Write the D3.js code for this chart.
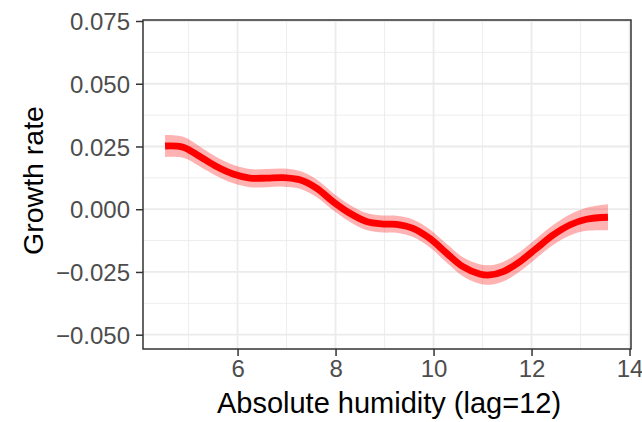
<!DOCTYPE html>
<html>
<head>
<meta charset="utf-8">
<script src="https://cdn.jsdelivr.net/npm/d3@7.9.0/dist/d3.min.js"></script>
<style>
  html, body { margin: 0; padding: 0; background: #fff; }
  svg { display: block; font-family: "Liberation Sans", Arial, sans-serif; }
</style>
</head>
<body>
<svg width="642" height="422"></svg>
<script>
// smooth fit of growth rate vs absolute humidity
const humidity = [4.52, 4.89, 5.23, 5.57, 5.91, 6.25, 6.59, 6.93, 7.27, 7.61, 7.95, 8.29, 8.63, 8.97,
  9.24, 9.58, 9.92, 10.27, 10.60, 10.94, 11.15, 11.42, 11.76, 12.10, 12.44, 12.78, 13.12, 13.56];
const growth = [0.0252, 0.0247, 0.0210, 0.0170, 0.0140, 0.0124, 0.0124, 0.0126, 0.0117, 0.0084, 0.0030, -0.0016, -0.0049, -0.0059,
  -0.0060, -0.0076, -0.0116, -0.0176, -0.0229, -0.0258, -0.0262, -0.0249, -0.0209, -0.0156, -0.0103, -0.0063, -0.0040, -0.0032];
const halfWidth = [0.0044, 0.0042, 0.0040, 0.0038, 0.0037, 0.0036, 0.0036, 0.0036, 0.0035, 0.0035, 0.0034, 0.0034, 0.0034, 0.0034,
  0.0034, 0.0035, 0.0036, 0.0037, 0.0038, 0.0039, 0.0039, 0.0039, 0.0039, 0.0039, 0.0040, 0.0042, 0.0046, 0.0052];

const xMajor = [6, 8, 10, 12, 14];
const xMinor = [5, 7, 9, 11, 13];
const yMajor = [-0.05, -0.025, 0, 0.025, 0.05, 0.075];
const yMinor = [-0.0375, -0.0125, 0.0125, 0.0375, 0.0625];

const pLeft = 143, pTop = 20, pRight = 631, pBottom = 349;

const x = d3.scaleLinear().domain([4.07, 14.03]).range([pLeft, pRight]);
const y = d3.scaleLinear().domain([-0.0557, 0.0754]).range([pBottom, pTop]);

const svg = d3.select("svg");

let data = humidity.map((h, i) => ({ x: h, y: growth[i], lo: growth[i] - halfWidth[i], hi: growth[i] + halfWidth[i] }));

// grid
let grid = svg.append("g");
grid.selectAll(".vmin").data(xMinor).join("line")
  .attr("x1", d => x(d)).attr("x2", d => x(d)).attr("y1", pTop).attr("y2", pBottom)
  .attr("stroke", "#ebebeb").attr("stroke-width", 0.9);
grid.selectAll(".hmin").data(yMinor).join("line")
  .attr("y1", d => y(d)).attr("y2", d => y(d)).attr("x1", pLeft).attr("x2", pRight)
  .attr("stroke", "#ebebeb").attr("stroke-width", 0.9);
grid.selectAll(".vmaj").data(xMajor).join("line")
  .attr("x1", d => x(d)).attr("x2", d => x(d)).attr("y1", pTop).attr("y2", pBottom)
  .attr("stroke", "#ebebeb").attr("stroke-width", 1.8);
grid.selectAll(".hmaj").data(yMajor).join("line")
  .attr("y1", d => y(d)).attr("y2", d => y(d)).attr("x1", pLeft).attr("x2", pRight)
  .attr("stroke", "#ebebeb").attr("stroke-width", 1.8);

// ribbon + line
let area = d3.area().x(d => x(d.x)).y0(d => y(d.lo)).y1(d => y(d.hi)).curve(d3.curveCatmullRom);
let line = d3.line().x(d => x(d.x)).y(d => y(d.y)).curve(d3.curveCatmullRom);

svg.append("path").datum(data).attr("d", area)
  .attr("fill", "red").attr("fill-opacity", 0.3);
svg.append("path").datum(data).attr("d", line)
  .attr("fill", "none").attr("stroke", "red").attr("stroke-width", 6.8);

// panel border
svg.append("rect").attr("x", pLeft).attr("y", pTop)
  .attr("width", pRight - pLeft).attr("height", pBottom - pTop)
  .attr("fill", "none").attr("stroke", "#333333").attr("stroke-width", 1.5);

// axes
let fmt = d => d < 0 ? "\u2212" + d3.format(".3f")(-d) : d3.format(".3f")(d);

let xAxis = svg.append("g").attr("transform", `translate(0,${pBottom})`)
  .call(d3.axisBottom(x).tickValues(xMajor).tickSize(7).tickPadding(4).tickFormat(d3.format("d")));
let yAxis = svg.append("g").attr("transform", `translate(${pLeft},0)`)
  .call(d3.axisLeft(y).tickValues(yMajor).tickSize(7).tickPadding(6).tickFormat(fmt));

[xAxis, yAxis].forEach(a => {
  a.select(".domain").remove();
  a.selectAll(".tick line").attr("stroke", "#333333").attr("stroke-width", 1.5);
  a.selectAll(".tick text").attr("fill", "#4d4d4d")
    .style("font-size", "24px").style("font-family", "'Liberation Sans', Arial, sans-serif");
});
yAxis.selectAll(".tick text").attr("dy", "0.36em");
xAxis.selectAll(".tick text").attr("dy", "0.72em");

// titles
svg.append("text").attr("x", (pLeft + pRight) / 2 + 2).attr("y", 413)
  .attr("text-anchor", "middle").attr("font-size", 29).attr("fill", "#000")
  .text("Absolute humidity (lag=12)");
svg.append("text").attr("transform", `translate(43,${(pTop + pBottom) / 2 - 4}) rotate(-90)`)
  .attr("text-anchor", "middle").attr("font-size", 28.5).attr("fill", "#000")
  .text("Growth rate");
</script>
</body>
</html>
